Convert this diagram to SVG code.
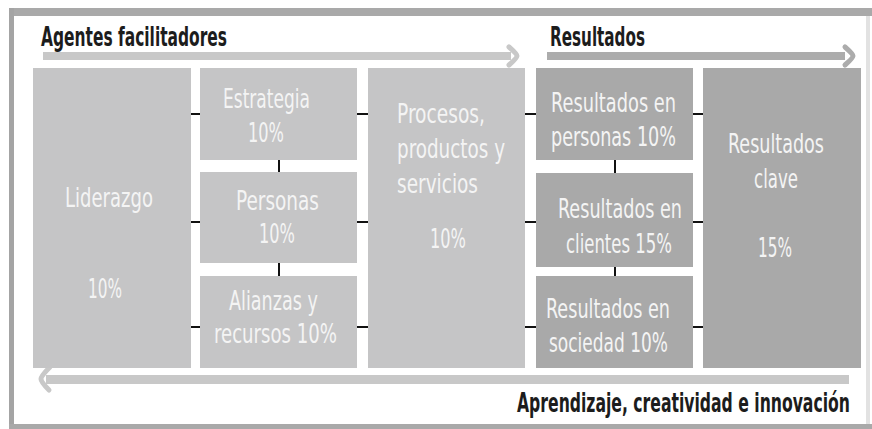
<svg xmlns="http://www.w3.org/2000/svg" width="872" height="429" viewBox="0 0 872 429">
<style>
.light{fill:#c5c5c6}
.dark{fill:#a9a9a9}
.t{font-family:"DejaVu Sans Condensed","DejaVu Sans",sans-serif;font-size:27px;fill:#f4f4f4}
.h{font-family:"DejaVu Sans Condensed","DejaVu Sans",sans-serif;font-size:27px;font-weight:bold;fill:#1c1c1c}
.tick{stroke:#111;stroke-width:2}
</style>
<rect x="0" y="0" width="872" height="429" fill="#ffffff"/>
<g id="frame">
<rect x="9" y="8" width="863" height="8" fill="#a9a9a9"/>
<rect x="9" y="8" width="5" height="421" fill="#a4a4a4"/>
<rect x="9" y="424" width="863" height="5" fill="#a9a9a9"/>
<rect x="866" y="16" width="4" height="408" fill="#e2e2e2"/>
</g>
<g id="arrows">
<rect x="43" y="52" width="468" height="8" fill="#c8c8c8"/>
<path d="M509,47 Q517,54 517,56 Q517,58 509,65" fill="none" stroke="#c8c8c8" stroke-width="5" stroke-linecap="round"/>
<rect x="547" y="52" width="298" height="8" fill="#acacac"/>
<path d="M845,47 Q853,54 853,56 Q853,58 845,65" fill="none" stroke="#acacac" stroke-width="5" stroke-linecap="round"/>
<rect x="46" y="375" width="803" height="9" fill="#c8c8c8"/>
<path d="M50,367 Q41,376 41,379 Q41,382 49,390" fill="none" stroke="#c8c8c8" stroke-width="5" stroke-linecap="round"/>
</g>
<g id="labels">
<text class="h" x="41" y="46" textLength="186" lengthAdjust="spacingAndGlyphs">Agentes facilitadores</text>
<text class="h" x="550" y="46" textLength="95" lengthAdjust="spacingAndGlyphs">Resultados</text>
<g transform="translate(517,412) scale(0.62,1)">
<text class="h" x="0" y="0" textLength="537" lengthAdjust="spacingAndGlyphs">Aprendizaje, creatividad e innovación</text>
</g>
</g>
<g id="connectors">
<line class="tick" x1="191" y1="114" x2="200" y2="114"/>
<line class="tick" x1="191" y1="222" x2="200" y2="222"/>
<line class="tick" x1="191" y1="327" x2="200" y2="327"/>
<line class="tick" x1="357" y1="114" x2="368" y2="114"/>
<line class="tick" x1="357" y1="222" x2="368" y2="222"/>
<line class="tick" x1="357" y1="327" x2="368" y2="327"/>
<line class="tick" x1="279" y1="160" x2="279" y2="172"/>
<line class="tick" x1="279" y1="263" x2="279" y2="276"/>
<line class="tick" x1="525" y1="114" x2="536" y2="114"/>
<line class="tick" x1="525" y1="222" x2="536" y2="222"/>
<line class="tick" x1="525" y1="327" x2="536" y2="327"/>
<line class="tick" x1="693" y1="114" x2="703" y2="114"/>
<line class="tick" x1="693" y1="222" x2="703" y2="222"/>
<line class="tick" x1="693" y1="327" x2="703" y2="327"/>
<line class="tick" x1="615" y1="160" x2="615" y2="173"/>
<line class="tick" x1="615" y1="267" x2="615" y2="276"/>
</g>
<g id="liderazgo">
<rect class="light" x="33" y="68" width="158" height="300"/>
<text class="t" x="65" y="207" textLength="88" lengthAdjust="spacingAndGlyphs">Liderazgo</text>
<text class="t" x="88" y="298" textLength="34" lengthAdjust="spacingAndGlyphs">10%</text>
</g>
<g id="estrategia">
<rect class="light" x="200" y="68" width="157" height="92"/>
<text class="t" x="223" y="108" textLength="87" lengthAdjust="spacingAndGlyphs">Estrategia</text>
<text class="t" x="248" y="142" textLength="36" lengthAdjust="spacingAndGlyphs">10%</text>
</g>
<g id="personas">
<rect class="light" x="200" y="172" width="157" height="91"/>
<text class="t" x="236" y="210" textLength="83" lengthAdjust="spacingAndGlyphs">Personas</text>
<text class="t" x="259" y="243" textLength="36" lengthAdjust="spacingAndGlyphs">10%</text>
</g>
<g id="alianzas">
<rect class="light" x="200" y="276" width="157" height="92"/>
<text class="t" x="229" y="310" textLength="89" lengthAdjust="spacingAndGlyphs">Alianzas y</text>
<text class="t" x="214" y="343" textLength="123" lengthAdjust="spacingAndGlyphs">recursos 10%</text>
</g>
<g id="procesos">
<rect class="light" x="368" y="68" width="157" height="300"/>
<text class="t" x="397" y="123" textLength="88" lengthAdjust="spacingAndGlyphs">Procesos,</text>
<text class="t" x="397" y="158" textLength="108" lengthAdjust="spacingAndGlyphs">productos y</text>
<text class="t" x="397" y="193" textLength="81" lengthAdjust="spacingAndGlyphs">servicios</text>
<text class="t" x="430" y="248" textLength="36" lengthAdjust="spacingAndGlyphs">10%</text>
</g>
<g id="res-personas">
<rect class="dark" x="536" y="68" width="157" height="92"/>
<text class="t" x="551" y="112" textLength="125" lengthAdjust="spacingAndGlyphs">Resultados en</text>
<text class="t" x="551" y="146" textLength="125" lengthAdjust="spacingAndGlyphs">personas 10%</text>
</g>
<g id="res-clientes">
<rect class="dark" x="536" y="173" width="157" height="94"/>
<text class="t" x="558" y="218" textLength="124" lengthAdjust="spacingAndGlyphs">Resultados en</text>
<text class="t" x="566" y="253" textLength="106" lengthAdjust="spacingAndGlyphs">clientes 15%</text>
</g>
<g id="res-sociedad">
<rect class="dark" x="536" y="276" width="157" height="92"/>
<text class="t" x="546" y="318" textLength="124" lengthAdjust="spacingAndGlyphs">Resultados en</text>
<text class="t" x="549" y="352" textLength="119" lengthAdjust="spacingAndGlyphs">sociedad 10%</text>
</g>
<g id="res-clave">
<rect class="dark" x="703" y="68" width="158" height="300"/>
<text class="t" x="728" y="153" textLength="96" lengthAdjust="spacingAndGlyphs">Resultados</text>
<text class="t" x="754" y="188" textLength="44" lengthAdjust="spacingAndGlyphs">clave</text>
<text class="t" x="758" y="257" textLength="34" lengthAdjust="spacingAndGlyphs">15%</text>
</g>
</svg>
